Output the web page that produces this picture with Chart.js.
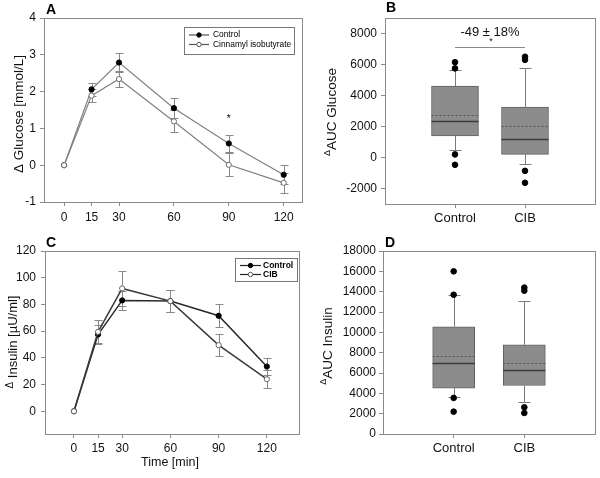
<!DOCTYPE html>
<html>
<head>
<meta charset="utf-8">
<script src="https://cdn.jsdelivr.net/npm/chart.js@4.4.0/dist/chart.umd.min.js"></script>
<style>
  body { margin: 0; background: #fff; }
  #wrap { position: relative; width: 600px; height: 478px; background: #fff; }
  #wrap canvas { position: absolute; left: 0; top: 0; }
</style>
</head>
<body>
<div id="wrap">
  <canvas id="chart-a" width="600" height="478"></canvas>
  <canvas id="chart-b" width="600" height="478"></canvas>
  <canvas id="chart-c" width="600" height="478"></canvas>
  <canvas id="chart-d" width="600" height="478"></canvas>
</div>
<script>
// ---- data ----
const timePoints = [0, 15, 30, 60, 90, 120]

const glucoseControl = [0, 2.06, 2.79, 1.55, 0.59, -0.26]
const glucoseControlErr = [0, 0.17, 0.27, 0.28, 0.24, 0.26]
const glucoseCib = [0, 1.89, 2.34, 1.19, 0.01, -0.48]
const glucoseCibErr = [0, 0.18, 0.21, 0.3, 0.31, 0.27]
const glucoseTicks = [-1, 0, 1, 2, 3, 4]
const glucoseStar = { x: 90, y: 1.29 }

const insulinControl = [0, 57.5, 83, 82.5, 71.5, 33.5]
const insulinControlErr = [0, 7, 7.3, 8, 8.7, 6.3]
const insulinCib = [0, 59.5, 92, 82.5, 49.5, 24]
const insulinCibErr = [0, 8.7, 13, 8.3, 8.3, 6.8]
const insulinTicks = [0, 20, 40, 60, 80, 100, 120]

const groups = ["Control", "CIB"]

const aucGlucoseQ1 = [1400, 200]
const aucGlucoseMedian = [2350, 1200]
const aucGlucoseMean = [2750, 2000]
const aucGlucoseQ3 = [4600, 3250]
const aucGlucoseLow = [470, -450]
const aucGlucoseHigh = [5650, 5800]
const aucGlucoseOutControl = [6150, 5750, 200, -470]
const aucGlucoseOutCib = [6500, 6300, -860, -1630]
const aucGlucoseTicks = [-2000, 0, 2000, 4000, 6000, 8000]
const aucGlucoseBracket = 7150

const aucInsulinQ1 = [4500, 4770]
const aucInsulinMedian = [6950, 6250]
const aucInsulinMean = [7700, 6980]
const aucInsulinQ3 = [10550, 8780]
const aucInsulinLow = [3600, 3160]
const aucInsulinHigh = [13650, 13050]
const aucInsulinOutControl = [16000, 13700, 3550, 2200]
const aucInsulinOutCib = [14400, 14100, 2630, 2070]
const aucInsulinTicks = [0, 2000, 4000, 6000, 8000, 10000, 12000, 14000, 16000, 18000]

// ---- shared bits ----
const font = "Arial, 'Liberation Sans', sans-serif"
Chart.defaults.font.family = font
Chart.defaults.color = "#111"
Chart.defaults.animation = false
const axisGray = "#8a8a8a"

const frame = {
  id: "frame",
  beforeDatasetsDraw(chart) {
    const { ctx, chartArea: a } = chart
    ctx.save()
    ctx.strokeStyle = axisGray
    ctx.lineWidth = 1
    ctx.strokeRect(Math.round(a.left) + 0.5, Math.round(a.top) + 0.5, Math.round(a.right - a.left), Math.round(a.bottom - a.top))
    ctx.restore()
  },
}

function padFor(area, yW, xH) {
  return { left: area.left - yW, top: area.top, right: 600 - area.right, bottom: 478 - area.bottom - xH }
}

function setTicks(vals) {
  return (scale) => {
    scale.ticks = vals.map((v) => ({ value: v }))
  }
}

function panelLetter(ctx, letter, x, y) {
  ctx.save()
  ctx.font = "bold 14px " + font
  ctx.fillStyle = "#000"
  ctx.textAlign = "left"
  ctx.textBaseline = "alphabetic"
  ctx.fillText(letter, x, y)
  ctx.restore()
}

// rotated axis title, with an optional small raised delta in front
function yTitle(ctx, x, y, delta, rest, size, deltaSize, raise) {
  ctx.save()
  ctx.translate(x, y)
  ctx.rotate(-Math.PI / 2)
  ctx.fillStyle = "#111"
  ctx.textAlign = "left"
  ctx.textBaseline = "middle"
  ctx.font = deltaSize + "px " + font
  const dw = delta ? ctx.measureText(delta).width : 0
  ctx.font = size + "px " + font
  const rw = ctx.measureText(rest).width
  const start = -(dw + rw) / 2
  if (delta) {
    ctx.font = deltaSize + "px " + font
    ctx.fillText(delta, start, -raise)
  }
  ctx.font = size + "px " + font
  ctx.fillText(rest, start + dw, 0)
  ctx.restore()
}

function drawMarker(ctx, x, y, r, fill, stroke) {
  ctx.beginPath()
  ctx.arc(x, y, r, 0, Math.PI * 2)
  ctx.fillStyle = fill
  ctx.fill()
  ctx.strokeStyle = stroke
  ctx.lineWidth = 1
  ctx.stroke()
}

function drawLegend(ctx, box, items, fontSpec) {
  ctx.save()
  ctx.strokeStyle = "#777"
  ctx.lineWidth = 1
  ctx.strokeRect(box.x + 0.5, box.y + 0.5, box.w, box.h)
  ctx.font = fontSpec
  ctx.textAlign = "left"
  ctx.textBaseline = "middle"
  items.forEach((it, i) => {
    const y = box.y + box.rows[i]
    ctx.strokeStyle = it.line
    ctx.lineWidth = 1.2
    ctx.beginPath()
    ctx.moveTo(box.x + box.lineFrom, y)
    ctx.lineTo(box.x + box.lineTo, y)
    ctx.stroke()
    drawMarker(ctx, box.x + (box.lineFrom + box.lineTo) / 2, y, 2.2, it.fill, it.stroke)
    ctx.fillStyle = "#000"
    ctx.fillText(it.label, box.x + box.textX, y)
  })
  ctx.restore()
}

// ---- line panels (A, C) ----
function linePanel(id, cfg) {
  const toPts = (vals) => timePoints.map((t, i) => ({ x: t, y: vals[i] }))

  const errorBars = {
    id: "errorBars",
    beforeDatasetsDraw(chart) {
      const { ctx } = chart
      const xs = chart.scales.x
      const ys = chart.scales.y
      ctx.save()
      ctx.strokeStyle = "#888"
      ctx.lineWidth = 1
      cfg.series.forEach((s) => {
        s.values.forEach((v, i) => {
          const e = s.errors[i]
          if (!e) return
          const px = Math.round(xs.getPixelForValue(timePoints[i])) + 0.5
          const top = Math.round(ys.getPixelForValue(v + e)) + 0.5
          const bot = Math.round(ys.getPixelForValue(v - e)) + 0.5
          ctx.beginPath()
          ctx.moveTo(px, top)
          ctx.lineTo(px, bot)
          ctx.moveTo(px - 4, top)
          ctx.lineTo(px + 4, top)
          ctx.moveTo(px - 4, bot)
          ctx.lineTo(px + 4, bot)
          ctx.stroke()
        })
      })
      ctx.restore()
    },
    afterDraw(chart) {
      cfg.extras(chart)
    },
  }

  return new Chart(document.getElementById(id).getContext("2d"), {
    type: "line",
    data: {
      datasets: cfg.series.map((s) => ({
        label: s.label,
        data: toPts(s.values),
        borderColor: s.line,
        borderWidth: cfg.lineWidth,
        pointRadius: 2.6,
        pointBackgroundColor: s.fill,
        pointBorderColor: s.stroke,
        pointBorderWidth: 1,
        tension: 0,
        order: s.order,
      })),
    },
    options: {
      responsive: false,
      layout: { padding: padFor(cfg.area, 40, 24) },
      plugins: { legend: { display: false }, tooltip: { enabled: false } },
      scales: {
        x: {
          type: "linear",
          min: cfg.xMin,
          max: cfg.xMax,
          afterBuildTicks: setTicks(timePoints),
          afterFit: (s) => { s.height = 24 },
          border: { display: false },
          grid: { drawOnChartArea: false, tickLength: 4, color: axisGray },
          ticks: { font: { size: 12 }, padding: cfg.xPad, autoSkip: false, maxRotation: 0, callback: (v) => String(v) },
        },
        y: {
          min: cfg.yMin,
          max: cfg.yMax,
          afterBuildTicks: setTicks(cfg.yTicks),
          afterFit: (s) => { s.width = 40 },
          border: { display: false },
          grid: { drawOnChartArea: false, tickLength: 4, color: axisGray },
          ticks: { font: { size: 12 }, padding: cfg.yPad, callback: (v) => String(v) },
        },
      },
    },
    plugins: [frame, errorBars],
  })
}

linePanel("chart-a", {
  area: { left: 44, right: 302, top: 18, bottom: 202 },
  xMin: -11, xMax: 130, yMin: -1, yMax: 4, yTicks: glucoseTicks,
  xPad: 4, yPad: 4, lineWidth: 1.2,
  series: [
    { label: "Control", values: glucoseControl, errors: glucoseControlErr, line: "#808080", fill: "#000", stroke: "#000", order: 1 },
    { label: "Cinnamyl isobutyrate", values: glucoseCib, errors: glucoseCibErr, line: "#808080", fill: "#fff", stroke: "#6e6e6e", order: 0 },
  ],
  extras(chart) {
    const { ctx, chartArea: a } = chart
    panelLetter(ctx, "A", 46, 13.5)
    yTitle(ctx, 19, 114, "", "\u0394 Glucose [mmol/L]", 13.5, 13.5, 0)
    drawLegend(ctx, { x: a.left + 140, y: a.top + 9, w: 110, h: 27, rows: [8, 17.5], lineFrom: 5, lineTo: 25, textX: 29 }, [
      { label: "Control", line: "#555", fill: "#000", stroke: "#000" },
      { label: "Cinnamyl isobutyrate", line: "#555", fill: "#fff", stroke: "#555" },
    ], "8.4px " + font)
    ctx.save()
    ctx.font = "10px " + font
    ctx.fillStyle = "#000"
    ctx.textAlign = "center"
    ctx.textBaseline = "middle"
    ctx.fillText("*", chart.scales.x.getPixelForValue(glucoseStar.x), chart.scales.y.getPixelForValue(glucoseStar.y) + 2)
    ctx.restore()
  },
})

linePanel("chart-c", {
  area: { left: 45, right: 299, top: 251, bottom: 434 },
  xMin: -18, xMax: 140, yMin: -17, yMax: 120, yTicks: insulinTicks,
  xPad: 3, yPad: 5, lineWidth: 1.5,
  series: [
    { label: "Control", values: insulinControl, errors: insulinControlErr, line: "#2a2a2a", fill: "#000", stroke: "#000", order: 1 },
    { label: "CIB", values: insulinCib, errors: insulinCibErr, line: "#3a3a3a", fill: "#fff", stroke: "#666", order: 0 },
  ],
  extras(chart) {
    const { ctx, chartArea: a } = chart
    panelLetter(ctx, "C", 46, 246.5)
    yTitle(ctx, 13, 342, "\u0394", " Insulin [\u00b5U/ml]", 13, 10, 3)
    drawLegend(ctx, { x: a.left + 190, y: a.top + 7, w: 62, h: 23, rows: [7.5, 16.5], lineFrom: 5, lineTo: 26, textX: 28 }, [
      { label: "Control", line: "#222", fill: "#000", stroke: "#000" },
      { label: "CIB", line: "#222", fill: "#fff", stroke: "#555" },
    ], "bold 8.5px " + font)
    ctx.save()
    ctx.font = "12.5px " + font
    ctx.fillStyle = "#111"
    ctx.textAlign = "center"
    ctx.textBaseline = "middle"
    ctx.fillText("Time [min]", 170, 463)
    ctx.restore()
  },
})

// ---- box panels (B, D) ----
function boxPanel(id, cfg) {
  const outliers = [
    ...cfg.outControl.map((v) => ({ x: groups[0], y: v })),
    ...cfg.outCib.map((v) => ({ x: groups[1], y: v })),
  ]

  const boxParts = {
    id: "boxParts",
    beforeDatasetsDraw(chart) {
      const { ctx } = chart
      const xs = chart.scales.x
      const ys = chart.scales.y
      ctx.save()
      ctx.strokeStyle = "#7a7a7a"
      ctx.lineWidth = 1
      groups.forEach((g, i) => {
        const px = Math.round(xs.getPixelForValue(i + 1)) + 0.5
        const hi = Math.round(ys.getPixelForValue(cfg.high[i])) + 0.5
        const lo = Math.round(ys.getPixelForValue(cfg.low[i])) + 0.5
        ctx.beginPath()
        ctx.moveTo(px, ys.getPixelForValue(cfg.q3[i]))
        ctx.lineTo(px, hi)
        ctx.moveTo(px - 6, hi)
        ctx.lineTo(px + 6, hi)
        ctx.moveTo(px, ys.getPixelForValue(cfg.q1[i]))
        ctx.lineTo(px, lo)
        ctx.moveTo(px - 6, lo)
        ctx.lineTo(px + 6, lo)
        ctx.stroke()
      })
      ctx.restore()
    },
    afterDatasetsDraw(chart) {
      const { ctx } = chart
      const xs = chart.scales.x
      const ys = chart.scales.y
      const half = cfg.barWidth / 2
      ctx.save()
      groups.forEach((g, i) => {
        const px = xs.getPixelForValue(i + 1)
        const med = Math.round(ys.getPixelForValue(cfg.median[i])) + 0.5
        const mean = Math.round(ys.getPixelForValue(cfg.mean[i])) + 0.5
        ctx.strokeStyle = "#3a3a3a"
        ctx.lineWidth = 1.3
        ctx.setLineDash([])
        ctx.beginPath()
        ctx.moveTo(px - half, med)
        ctx.lineTo(px + half, med)
        ctx.stroke()
        ctx.strokeStyle = "#555"
        ctx.lineWidth = 1
        ctx.setLineDash([2, 2])
        ctx.beginPath()
        ctx.moveTo(px - half, mean)
        ctx.lineTo(px + half, mean)
        ctx.stroke()
      })
      ctx.restore()
    },
    afterDraw(chart) {
      cfg.extras(chart)
    },
  }

  return new Chart(document.getElementById(id).getContext("2d"), {
    type: "bar",
    data: {
      labels: ["", ...groups, ""],
      datasets: [
        {
          type: "scatter",
          data: outliers,
          pointRadius: 2.8,
          pointBackgroundColor: "#000",
          pointBorderColor: "#000",
          order: 0,
        },
        {
          type: "bar",
          data: [null, [cfg.q1[0], cfg.q3[0]], [cfg.q1[1], cfg.q3[1]], null],
          backgroundColor: "#8c8c8c",
          borderColor: "#626262",
          borderWidth: 1,
          borderSkipped: false,
          barThickness: cfg.barWidth,
          order: 1,
        },
      ],
    },
    options: {
      responsive: false,
      layout: { padding: padFor(cfg.area, 46, 26) },
      plugins: { legend: { display: false }, tooltip: { enabled: false } },
      scales: {
        x: {
          type: "category",
          offset: false,
          afterFit: (s) => { s.height = 26 },
          border: { display: false },
          grid: {
            offset: false,
            drawOnChartArea: false,
            tickLength: 4,
            color: (c) => (c.index === 1 || c.index === 2 ? axisGray : "rgba(0,0,0,0)"),
          },
          ticks: { font: { size: 13 }, padding: 3, autoSkip: false, maxRotation: 0 },
        },
        y: {
          min: cfg.yMin,
          max: cfg.yMax,
          afterBuildTicks: setTicks(cfg.yTicks),
          afterFit: (s) => { s.width = 46 },
          border: { display: false },
          grid: { drawOnChartArea: false, tickLength: 4, color: axisGray },
          ticks: { font: { size: 12 }, padding: cfg.yPad, callback: (v) => String(v) },
        },
      },
    },
    plugins: [frame, boxParts],
  })
}

boxPanel("chart-b", {
  area: { left: 385, right: 598, top: 18, bottom: 204 },
  yMin: -3000, yMax: 9000, yTicks: aucGlucoseTicks, yPad: 4, barWidth: 47,
  q1: aucGlucoseQ1, q3: aucGlucoseQ3, median: aucGlucoseMedian, mean: aucGlucoseMean,
  low: aucGlucoseLow, high: aucGlucoseHigh, outControl: aucGlucoseOutControl, outCib: aucGlucoseOutCib,
  extras(chart) {
    const { ctx } = chart
    const xs = chart.scales.x
    const ys = chart.scales.y
    panelLetter(ctx, "B", 386, 12)
    yTitle(ctx, 332, 112, "\u0394", "AUC Glucose", 13.5, 9, 4)
    const by = Math.round(ys.getPixelForValue(aucGlucoseBracket)) + 0.5
    const x1 = xs.getPixelForValue(1)
    const x2 = xs.getPixelForValue(2)
    ctx.save()
    ctx.strokeStyle = axisGray
    ctx.lineWidth = 1
    ctx.beginPath()
    ctx.moveTo(x1, by)
    ctx.lineTo(x2, by)
    ctx.stroke()
    ctx.fillStyle = "#111"
    ctx.textAlign = "center"
    ctx.textBaseline = "alphabetic"
    ctx.font = "13px " + font
    ctx.fillText("-49 \u00b1 18%", (x1 + x2) / 2, by - 11.5)
    ctx.font = "9px " + font
    ctx.textBaseline = "middle"
    ctx.fillText("*", (x1 + x2) / 2 + 1, by - 6)
    ctx.restore()
  },
})

boxPanel("chart-d", {
  area: { left: 383, right: 598, top: 251, bottom: 434 },
  yMin: 0, yMax: 18000, yTicks: aucInsulinTicks, yPad: 3, barWidth: 42,
  q1: aucInsulinQ1, q3: aucInsulinQ3, median: aucInsulinMedian, mean: aucInsulinMean,
  low: aucInsulinLow, high: aucInsulinHigh, outControl: aucInsulinOutControl, outCib: aucInsulinOutCib,
  extras(chart) {
    const { ctx } = chart
    panelLetter(ctx, "D", 385, 246.5)
    yTitle(ctx, 328, 346, "\u0394", "AUC Insulin", 13.5, 9, 4)
  },
})
</script>
</body>
</html>
